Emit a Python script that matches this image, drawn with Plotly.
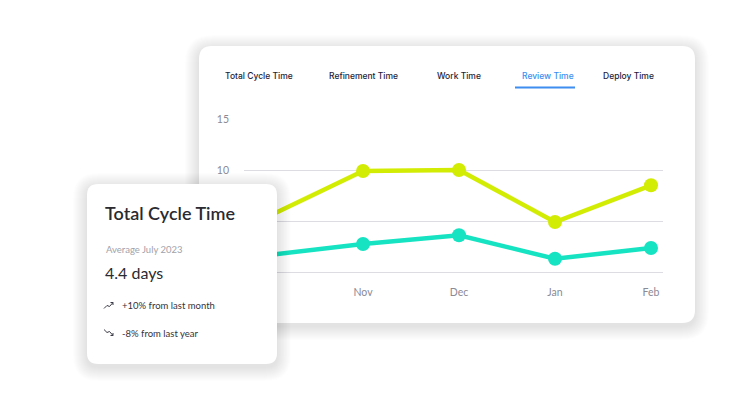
import plotly.graph_objects as go

# ---- data ----
months = ["Oct", "Nov", "Dec", "Jan", "Feb"]
total_cycle = [5.4, 9.9, 10.0, 4.9, 8.5]
review_time = [1.65, 2.75, 3.6, 1.3, 2.35]
y_ticks = [0, 5, 10, 15]
y_tick_text = ["", "", "10", "15"]  # 0 and 5 sit behind the summary card
tabs = ["Total Cycle Time", "Refinement Time", "Work Time", "Review Time", "Deploy Time"]
active_tab = "Review Time"
card_title = "Total Cycle Time"
card_sub = "Average July 2023"
card_value = "4.4 days"
card_up = "+10% from last month"
card_down = "-8% from last year"

W, H = 752, 403
L, R, T, B = 244, 663, 119, 272


def px(x):
    return (x - L) / (R - L)


def py(y):
    return (B - y) / (B - T)


def rrect(x0, y0, x1, y1, r):
    pts = [("M", [(x0 + r, y0)]), ("L", [(x1 - r, y0)]), ("Q", [(x1, y0), (x1, y0 + r)]),
           ("L", [(x1, y1 - r)]), ("Q", [(x1, y1), (x1 - r, y1)]), ("L", [(x0 + r, y1)]),
           ("Q", [(x0, y1), (x0, y1 - r)]), ("L", [(x0, y0 + r)]), ("Q", [(x0, y0), (x0 + r, y0)])]
    s = ""
    for cmd, ps in pts:
        s += cmd + " " + " ".join(f"{px(a):.5f},{py(b):.5f}" for a, b in ps) + " "
    return s + "Z"


def polyline(points):
    return "M " + " L ".join(f"{px(a):.5f},{py(b):.5f}" for a, b in points)


shapes = []


def card(x0, y0, x1, y1, r, layer):
    for i in range(14, 0, -1):
        shapes.append(dict(type="path", xref="paper", yref="paper", layer=layer,
                           path=rrect(x0 - i, y0 - i + 3, x1 + i, y1 + i + 3, r + i),
                           fillcolor="rgba(40,40,60,0.006)", line=dict(width=0)))
    shapes.append(dict(type="path", xref="paper", yref="paper", layer=layer,
                       path=rrect(x0, y0, x1, y1, r), fillcolor="white",
                       line=dict(width=0)))


card(199, 46, 695, 323, 13, "below")
card(87, 184, 277, 364, 11, "above")

# active tab underline
shapes.append(dict(type="line", xref="paper", yref="paper", layer="above",
                   x0=px(515), x1=px(575), y0=py(87.5), y1=py(87.5),
                   line=dict(color="#3d8ef0", width=2)))

# trend icons
icon_col = "#3a3a46"
shapes.append(dict(type="path", xref="paper", yref="paper", layer="above",
                   path=polyline([(104, 308.5), (107, 305.5), (109.5, 306.5), (113, 302.5)]),
                   line=dict(color=icon_col, width=1)))
shapes.append(dict(type="path", xref="paper", yref="paper", layer="above",
                   path=polyline([(110.5, 302.5), (113, 302.5), (113, 305)]),
                   line=dict(color=icon_col, width=1)))
shapes.append(dict(type="path", xref="paper", yref="paper", layer="above",
                   path=polyline([(104, 329.5), (107, 332.5), (109.5, 331.5), (113, 335.5)]),
                   line=dict(color=icon_col, width=1)))
shapes.append(dict(type="path", xref="paper", yref="paper", layer="above",
                   path=polyline([(110.5, 335.5), (113, 335.5), (113, 333)]),
                   line=dict(color=icon_col, width=1)))

fig = go.Figure()
fig.add_trace(go.Scatter(x=months, y=total_cycle, mode="lines+markers",
                         line=dict(color="#d3ec04", width=4.5),
                         marker=dict(size=14, color="#d3ec04"), cliponaxis=False,
                         name="Total Cycle Time", hoverinfo="skip"))
fig.add_trace(go.Scatter(x=months, y=review_time, mode="lines+markers",
                         line=dict(color="#16e3c2", width=4.5),
                         marker=dict(size=14, color="#16e3c2"), cliponaxis=False,
                         name="Review Time", hoverinfo="skip"))

annotations = []
tab_x = [223, 327, 435, 520, 601]
for t, x in zip(tabs, tab_x):
    annotations.append(dict(text=t, x=px(x), y=py(76), xref="paper", yref="paper",
                            xanchor="left", yanchor="middle", showarrow=False,
                            font=dict(family="Inter", size=8.5,
                                      color="#3d8ef0" if t == active_tab else "#1e1e3a",
                                      weight=500)))

cf = "Lato"
annotations += [
    dict(text=card_title, x=px(103), y=py(213), font=dict(family=cf, size=18, color="#2a2a30", weight=600)),
    dict(text=card_sub, x=px(103.5), y=py(249), font=dict(family=cf, size=9.5, color="#a2a2aa")),
    dict(text=card_value, x=px(103), y=py(272), font=dict(family=cf, size=16, color="#2a2a30")),
    dict(text=card_up, x=px(119.5), y=py(305), font=dict(family=cf, size=9.5, color="#33333c")),
    dict(text=card_down, x=px(119.5), y=py(333), font=dict(family=cf, size=9.5, color="#33333c")),
]
for a in annotations[len(tabs):]:
    a.update(xref="paper", yref="paper", xanchor="left", yanchor="middle", showarrow=False)

fig.update_layout(
    width=W, height=H,
    margin=dict(l=L, r=W - R, t=T, b=H - B),
    paper_bgcolor="white", plot_bgcolor="rgba(0,0,0,0)",
    showlegend=False, hovermode=False,
    shapes=shapes, annotations=annotations,
    xaxis=dict(range=[-0.24, 4.125], showgrid=False, zeroline=False, showline=False,
               tickfont=dict(family=cf, size=10.5, color="#8a8a96"), ticks="",
               ticklabelstandoff=12, fixedrange=True),
    yaxis=dict(range=[0, 15], tickvals=y_ticks, ticktext=y_tick_text, showgrid=True,
               gridcolor="#dcdce2", gridwidth=1, zeroline=True, zerolinecolor="#dcdce2",
               zerolinewidth=1, showline=False, ticks="",
               tickfont=dict(family=cf, size=10.5, color="#8a8a96"),
               ticklabelstandoff=14, fixedrange=True),
)

fig.write_html("out.html", config={"displayModeBar": False, "staticPlot": True},
               post_script="document.body.style.margin='0';document.body.style.overflow='hidden';")
